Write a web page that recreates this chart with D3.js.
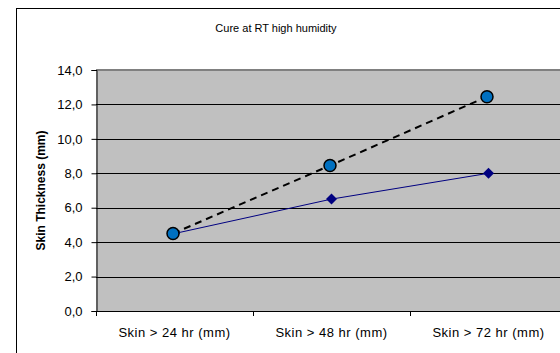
<!DOCTYPE html>
<html><head><meta charset="utf-8">
<script src="https://cdn.jsdelivr.net/npm/d3@7/dist/d3.min.js"></script>
<style>body{margin:0;background:#fff}svg{display:block}text{font-family:"Liberation Sans",Arial,sans-serif}</style>
</head><body><svg id="c" width="560" height="353"></svg>
<script>
const categories = ["Skin > 24 hr (mm)", "Skin > 48 hr (mm)", "Skin > 72 hr (mm)"];
const circleSeries = [4.5, 8.45, 12.45];
const diamondSeries = [4.5, 6.5, 8.0];
const yTicks = [0, 2, 4, 6, 8, 10, 12, 14];
const title = "Cure at RT high humidity";
const yLabel = "Skin Thickness (mm)";

const svg = d3.select("#c");
const L = 96, R = 567, T = 70, B = 311;

// outer chart border
svg.append("rect").attr("x", 16.5).attr("y", 8.5).attr("width", 600).attr("height", 400)
  .attr("fill", "#fff").attr("stroke", "#000").attr("stroke-width", 1);

const x = d3.scaleBand().domain(categories).range([L, R]);
const y = d3.scaleLinear().domain([0, 14]).range([B, T]);

svg.append("rect").attr("x", L).attr("y", T).attr("width", R - L).attr("height", B - T).attr("fill", "#c0c0c0");
// top border of plot area
svg.append("line").attr("x1", L).attr("x2", R).attr("y1", T).attr("y2", T).attr("stroke", "#808080").attr("stroke-width", 2);

// gridlines
svg.append("g").selectAll("line").data(yTicks.filter(d => d > 0 && d < 14)).join("line")
  .attr("x1", L).attr("x2", R).attr("y1", d => Math.round(y(d)) + 0.5).attr("y2", d => Math.round(y(d)) + 0.5)
  .attr("stroke", "#000").attr("stroke-width", 1);

// y axis
const ya = svg.append("g").attr("transform", `translate(${L + 0.5},0)`)
  .call(d3.axisLeft(y).tickValues(yTicks).tickSize(5).tickPadding(9)
    .tickFormat(d => d3.format(".1f")(d).replace(".", ",")));
ya.select(".domain").attr("stroke", "#000");
ya.selectAll("line").attr("stroke", "#000");
ya.selectAll("text").attr("font-size", 13).attr("fill", "#000").attr("font-family", "Liberation Sans, Arial, sans-serif");

// x axis
const xa = svg.append("g").attr("transform", `translate(0,${B + 0.5})`)
  .call(d3.axisBottom(x).tickSize(0).tickPadding(16));
xa.select(".domain").attr("stroke", "#000").attr("d", `M${L},0H${R}`);
xa.selectAll("text").attr("font-size", 13).attr("letter-spacing", "0.5px").attr("fill", "#000")
  .attr("font-family", "Liberation Sans, Arial, sans-serif");
svg.append("g").selectAll("line").data(categories.map((c, i) => x(c))).join("line")
  .attr("x1", d => Math.round(d) + 0.5).attr("x2", d => Math.round(d) + 0.5)
  .attr("y1", B).attr("y2", B + 5).attr("stroke", "#000");

const cx = c => x(c) + x.bandwidth() / 2;

// diamond series line
svg.append("path").datum(diamondSeries)
  .attr("d", d3.line().x((d, i) => cx(categories[i])).y(d => y(d)))
  .attr("fill", "none").attr("stroke", "#000080").attr("stroke-width", 1);
svg.append("g").selectAll("path").data(diamondSeries).join("path")
  .attr("transform", (d, i) => `translate(${cx(categories[i])},${y(d)})`)
  .attr("d", "M0,-5.5L5.5,0L0,5.5L-5.5,0Z").attr("fill", "#000080");

// circle series dashed line
svg.append("path").datum(circleSeries)
  .attr("d", d3.line().x((d, i) => cx(categories[i]) - 1.5).y(d => y(d)))
  .attr("fill", "none").attr("stroke", "#000").attr("stroke-width", 2).attr("stroke-dasharray", "7,5");
svg.append("g").selectAll("circle").data(circleSeries).join("circle")
  .attr("cx", (d, i) => cx(categories[i]) - 1.5).attr("cy", d => y(d)).attr("r", 6)
  .attr("fill", "#0070c0").attr("stroke", "#000").attr("stroke-width", 1.5);

// title
svg.append("text").attr("x", 276).attr("y", 32).attr("text-anchor", "middle").attr("font-size", 11).text(title);

// y label
svg.append("text").attr("transform", `translate(45,${(T + B) / 2}) rotate(-90)`)
  .attr("text-anchor", "middle").attr("font-size", 12).attr("font-weight", "bold").text(yLabel);
</script></body></html>
